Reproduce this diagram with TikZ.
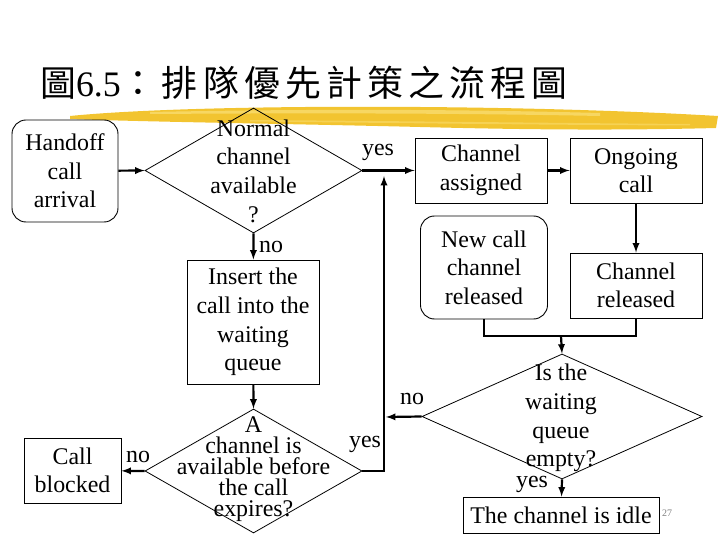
\documentclass[tikz,border=0pt]{standalone}
\usepackage{fontspec}
\setmainfont{Liberation Serif}
\newfontfamily\cjk{Noto Sans CJK TC}
\usetikzlibrary{shapes.geometric}
\definecolor{brushyellow}{RGB}{242,196,48}
\definecolor{brushlight}{RGB}{250,224,120}

\begin{document}
\begin{tikzpicture}[x=1bp, y=-1bp, >=latex,
  every node/.style={font=\fontsize{24}{28.7}\selectfont, inner sep=0pt, align=center},
  box/.style={draw, line width=0.9bp, minimum width=132bp, minimum height=65bp},
  rbox/.style={box, rounded corners=14bp},
  decision/.style={diamond, draw, line width=0.8bp, minimum width=217bp, minimum height=125bp},
  flow/.style={line width=2.2bp}]
  \useasboundingbox (0,0) rectangle (720,540);
  % title and brush stroke
  \fill[brushyellow] (70,116) .. controls (150,108) and (300,106) .. (420,107)
    .. controls (550,108) and (650,112) .. (718,116) -- (716,128)
    .. controls (600,131) and (500,129) .. (420,127)
    .. controls (300,124) and (150,122) .. (70,119) -- cycle;
  \fill[brushlight, opacity=0.7] (150,112) .. controls (300,109) and (450,109) .. (600,113)
    -- (600,116) .. controls (450,113) and (300,113) .. (150,114) -- cycle;
  \fill[brushlight, opacity=0.5] (250,120) .. controls (400,121) and (550,123) .. (690,124)
    -- (690,125.5) .. controls (550,125) and (400,123) .. (250,121.5) -- cycle;
  \node (title) [anchor=west, font=\fontsize{36}{40}\selectfont] at (40,83)
    {{\cjk\addfontfeature{LetterSpace=14.5}圖}6.5{\cjk\addfontfeature{LetterSpace=14.5}：排隊優先計策之流程圖}};
  % nodes
  \node (hand) [rbox, minimum width=106bp, minimum height=102bp] at (65,171) {Handoff\\call\\arrival};
  \node (d1) [decision] at (253.5,170.5) {};
  \node (d1t) at (253.5,171) {Normal\\channel\\available\\?};
  \node (ins) [box, minimum height=124bp] at (253,322) {Insert the\\call into the\\waiting\\queue};
  \node (d2) [decision, minimum height=124bp] at (253.5,471) {};
  \node (d2t) [font=\fontsize{24}{21}\selectfont] at (253.5,469) {A\\channel is\\available before\\the call\\expires?};
  \node (blk) [box, minimum width=97bp] at (72.5,470.5) {Call\\blocked};
  \node (asg) [box] at (481,170.5) {Channel\\assigned};
  \node (ong) [box] at (636,170.5) {Ongoing\\call};
  \node (rel) [box] at (636,285.5) {Channel\\released};
  \node (newc) [rbox, minimum width=127bp, minimum height=103bp] at (484,267.5) {New call\\channel\\released};
  \node (d3) [decision, minimum width=280bp] at (562,416.5) {};
  \node (d3t) at (561,418) {Is the\\waiting\\queue\\empty?};
  \node (idle) [box, minimum width=196bp, minimum height=36bp] at (561,515) {The channel is idle};
  \node (page) [font=\fontsize{10}{12}\selectfont, gray] at (667,513) {27};
  % labels
  \node (lno1) at (271,247) {no};
  \node (lyes1) at (378,152) {yes};
  \node (lno2) at (138,457) {no};
  \node (lyes2) at (365,444) {yes};
  \node (lno3) at (412,399) {no};
  \node (lyes3) at (532,484) {yes};
  \coordinate (j1) at (384,176);
  \coordinate (j2) at (386,417);
  \coordinate (m) at (561,336);
  % connectors
  \draw [flow, ->] (hand) -- (d1.west);
  \draw [flow, ->] (d1.south) -- (ins);
  \draw [flow, ->] (ins) -- (d2.north);
  \draw [flow, ->] (d2.west) -- (blk);
  \draw [flow, ->] (d2.east) -| (j1);
  \draw [flow, ->] (d1.east) -- (asg);
  \draw [flow, ->] (asg) -- (ong);
  \draw [flow, ->] (ong) -- (rel);
  \draw [flow] (newc) |- (m) -| (rel);
  \draw [flow, ->] (m) -- (d3.north);
  \draw [flow, ->] (d3.west) -- (j2);
  \draw [flow, ->] (d3.south) -- (idle);
\end{tikzpicture}
\end{document}
